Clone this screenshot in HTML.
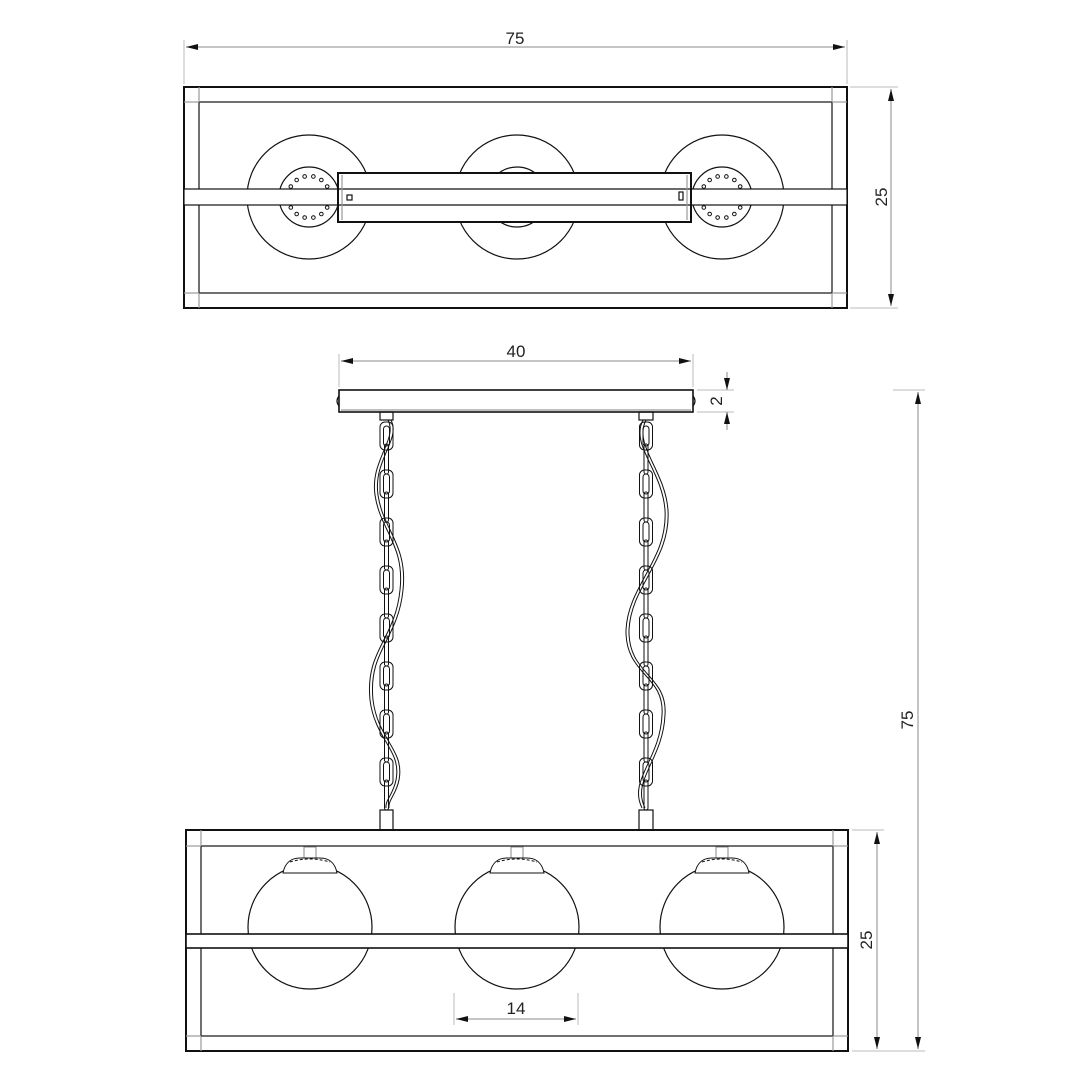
<!DOCTYPE html>
<html><head><meta charset="utf-8"><style>
html,body{margin:0;padding:0;background:#fff}
svg{display:block}
text{font-family:"Liberation Sans",sans-serif;font-size:17px;fill:#222}
</style></head><body>
<svg id="s" width="1080" height="1080" viewBox="0 0 1080 1080" xmlns="http://www.w3.org/2000/svg">
<defs>
<marker id="a" viewBox="0 0 12 6" refX="12" refY="3" markerWidth="12" markerHeight="6" orient="auto-start-reverse" markerUnits="userSpaceOnUse"><path d="M0,0L12,3L0,6z" fill="#111"/></marker>
</defs>
<g fill="none" stroke="#bbb" stroke-width="1">
<line x1="184" y1="40" x2="184" y2="84"/><line x1="847" y1="40" x2="847" y2="84"/>
<line x1="850" y1="87" x2="898" y2="87"/><line x1="850" y1="308" x2="898" y2="308"/>
<line x1="339" y1="354" x2="339" y2="387"/><line x1="693" y1="354" x2="693" y2="387"/>
<line x1="697" y1="390" x2="734" y2="390"/><line x1="697" y1="412" x2="734" y2="412"/>
<line x1="893" y1="390" x2="925" y2="390"/><line x1="852" y1="1051" x2="925" y2="1051"/>
<line x1="852" y1="830" x2="884" y2="830"/>
<line x1="454" y1="993" x2="454" y2="1025"/><line x1="578" y1="993" x2="578" y2="1025"/>
</g>
<g stroke="#888" stroke-width="1" fill="none">
<line x1="186" y1="47" x2="845" y2="47" marker-start="url(#a)" marker-end="url(#a)"/>
<line x1="891" y1="89" x2="891" y2="306" marker-start="url(#a)" marker-end="url(#a)"/>
<line x1="341" y1="361" x2="691" y2="361" marker-start="url(#a)" marker-end="url(#a)"/>
<line x1="727" y1="372" x2="727" y2="390" marker-end="url(#a)"/>
<line x1="727" y1="430" x2="727" y2="412" marker-end="url(#a)"/>
<line x1="918" y1="392" x2="918" y2="1049" marker-start="url(#a)" marker-end="url(#a)"/>
<line x1="877" y1="832" x2="877" y2="1049" marker-start="url(#a)" marker-end="url(#a)"/>
<line x1="456" y1="1019" x2="576" y2="1019" marker-start="url(#a)" marker-end="url(#a)"/>
</g>
<text x="515" y="44" text-anchor="middle">75</text>
<text x="516" y="357" text-anchor="middle">40</text>
<text x="516" y="1014" text-anchor="middle">14</text>
<text transform="translate(887,197) rotate(-90)" text-anchor="middle">25</text>
<text transform="translate(722,401) rotate(-90)" text-anchor="middle">2</text>
<text transform="translate(913,720) rotate(-90)" text-anchor="middle">75</text>
<text transform="translate(872,940) rotate(-90)" text-anchor="middle">25</text>

<g fill="none" stroke="#111" stroke-width="1.2" id="top">
<circle cx="309" cy="197" r="62"/><circle cx="517" cy="197" r="62"/><circle cx="722" cy="197" r="62"/>
<circle cx="309" cy="197" r="30"/><circle cx="517" cy="197" r="30"/><circle cx="722" cy="197" r="30"/>
<rect x="184" y="87" width="663" height="221" stroke-width="2"/>
<rect x="199" y="102" width="633" height="191"/>
<line x1="184" y1="102" x2="199" y2="102" stroke="#999"/><line x1="832" y1="102" x2="847" y2="102" stroke="#999"/>
<line x1="184" y1="293" x2="199" y2="293" stroke="#999"/><line x1="832" y1="293" x2="847" y2="293" stroke="#999"/>
<line x1="199" y1="87" x2="199" y2="102" stroke="#999"/><line x1="832" y1="87" x2="832" y2="102" stroke="#999"/>
<line x1="199" y1="293" x2="199" y2="308" stroke="#999"/><line x1="832" y1="293" x2="832" y2="308" stroke="#999"/>
<rect x="184" y="189" width="663" height="16" fill="#fff"/>
<rect x="338" y="173" width="353" height="49" fill="#fff" stroke-width="2"/>
<line x1="338" y1="189" x2="691" y2="189"/><line x1="338" y1="205" x2="691" y2="205"/>
<line x1="342" y1="175" x2="342" y2="220" stroke="#999"/><line x1="687" y1="175" x2="687" y2="220" stroke="#999"/>
<rect x="347" y="195" width="5" height="5"/><rect x="679" y="192" width="4" height="8"/>
</g>
<g id="dots" fill="#fff" stroke="#111" stroke-width="1"></g>

<g fill="none" stroke="#111" stroke-width="1.2">
<rect x="339" y="390" width="354" height="22" fill="#fff" stroke-width="1.6"/>
<line x1="341" y1="410" x2="691" y2="410" stroke="#999"/>
<path d="M339,396 q-4,5 0,10" /><path d="M693,396 q4,5 0,10"/>
<rect x="380" y="412" width="13" height="8"/><rect x="639" y="412" width="14" height="8"/>
<rect x="380" y="810" width="13" height="20"/><rect x="639" y="810" width="14" height="20"/>
</g>
<g id="chains" fill="none" stroke="#111" stroke-width="1"></g>
<g fill="none" stroke="#111" stroke-width="1">
<path d="M388,420 C398,440 370,460 375,495 C380,530 405,545 400,590 C395,640 365,650 370,700 C375,740 402,750 396,780 C393,795 385,800 386,808"/>
<path d="M391,420 C401,440 373,460 378,495 C383,530 408,545 403,590 C398,640 368,650 373,700 C378,740 405,750 399,780 C396,795 388,800 389,808"/>
<path d="M643,420 C630,445 662,470 665,510 C668,560 628,585 626,630 C625,675 665,675 662,715 C660,760 628,780 642,808"/>
<path d="M646,420 C633,445 665,470 668,510 C671,560 631,585 629,630 C628,675 668,675 665,715 C663,760 631,780 645,808"/>
</g>

<g fill="none" stroke="#111" stroke-width="1.2">
<circle cx="310" cy="927" r="62"/><circle cx="517" cy="927" r="62"/><circle cx="722" cy="927" r="62"/>
<rect x="186" y="830" width="662" height="221" stroke-width="2"/>
<rect x="201" y="846" width="632" height="190"/>
<line x1="186" y1="846" x2="201" y2="846" stroke="#999"/><line x1="833" y1="846" x2="848" y2="846" stroke="#999"/>
<line x1="186" y1="1036" x2="201" y2="1036" stroke="#999"/><line x1="833" y1="1036" x2="848" y2="1036" stroke="#999"/>
<line x1="201" y1="830" x2="201" y2="846" stroke="#999"/><line x1="833" y1="830" x2="833" y2="846" stroke="#999"/>
<line x1="201" y1="1036" x2="201" y2="1051" stroke="#999"/><line x1="833" y1="1036" x2="833" y2="1051" stroke="#999"/>
<rect x="186" y="934" width="662" height="14" fill="#fff" stroke-width="1.6"/>
</g>
<g id="caps" fill="#fff" stroke="#111" stroke-width="1"></g>
<script>
var NS="http://www.w3.org/2000/svg";
function el(p,t,a){var e=document.createElementNS(NS,t);for(var k in a)e.setAttribute(k,a[k]);document.getElementById(p).appendChild(e);}
[309,722].forEach(function(cx){for(var i=0;i<12;i++){var ang=(i<6? -150+i*24 : 30+(i-6)*24)*Math.PI/180;el("dots","circle",{cx:cx+21*Math.cos(ang),cy:197+21*Math.sin(ang),r:1.8});}});
[386.5,646].forEach(function(cx){for(var y=422;y<805;y+=24){var full=((y-422)/24)%2==0;
 if(full){el("chains","rect",{x:cx-6.5,y:y,width:13,height:28,rx:5});el("chains","rect",{x:cx-3,y:y+4,width:6,height:20,rx:3});}
 else{el("chains","rect",{x:cx-2,y:y-2,width:4,height:30,rx:2});}}});
[310,517,722].forEach(function(cx){
 el("caps","rect",{x:cx-6,y:847,width:12,height:11,stroke:"#888"});
 el("caps","path",{d:"M"+(cx-27)+",873 C"+(cx-25)+",862 "+(cx-18)+",858 "+(cx-10)+",858 L"+(cx+10)+",858 C"+(cx+18)+",858 "+(cx+25)+",862 "+(cx+27)+",873 Z"});
 el("caps","path",{d:"M"+(cx-20)+",862 Q"+cx+",856 "+(cx+20)+",862",fill:"none","stroke-dasharray":"3,2"});
});
</script>
</svg>
</body></html>
